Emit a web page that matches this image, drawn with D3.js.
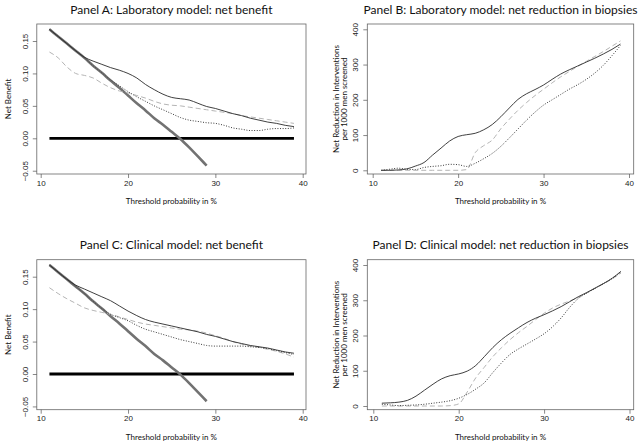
<!DOCTYPE html>
<html><head><meta charset="utf-8">
<script src="https://cdn.jsdelivr.net/npm/d3@7"></script>
<style>
html,body{margin:0;padding:0;background:#fff;}
svg{display:block;}
</style></head>
<body>
<svg id="chart" width="640" height="446"></svg>
<script>
// ---------- data ----------
const thresholds = [11,12,13,14,15,16,17,18,19,20,21,22,23,24,25,26,27,28,29,30,31,32,33,34,35,36,37,38,39];
const xTicks = [10,20,30,40];
const nbTicks = [-0.05,0.00,0.05,0.10,0.15];
const nrTicks = [0,100,200,300,400];

const titles = ["Panel A: Laboratory model: net benefit",
                "Panel B: Laboratory model: net reduction in biopsies",
                "Panel C: Clinical model: net benefit",
                "Panel D: Clinical model: net reduction in biopsies"];
const xLabel = "Threshold probability in %";
const nbLabel = ["Net Benefit"];
const nrLabel = ["Net Reduction in Interventions","per 1000 men screened"];

// treat all / treat none reference lines (net benefit panels)
const treatAllX = [11,12,13,14,15,16,17,18,19,20,21,22,23,24,25,26,27,28,29];
const treatAllY = [0.168,0.157,0.146,0.135,0.124,0.112,0.101,0.089,0.078,0.066,0.054,0.043,0.031,0.021,0.010,-0.001,-0.014,-0.028,-0.042];
const treatNoneX = [11,39];
const treatNoneY = [0,0];

// Panel A: laboratory model, net benefit
const labNBsolid  = [0.168,0.157,0.146,0.135,0.125,0.119,0.114,0.109,0.105,0.100,0.093,0.083,0.075,0.068,0.063,0.061,0.059,0.054,0.049,0.046,0.042,0.038,0.035,0.031,0.028,0.025,0.023,0.020,0.018];
const labNBdashed = [0.133,0.124,0.110,0.100,0.097,0.093,0.085,0.078,0.073,0.070,0.066,0.062,0.057,0.053,0.051,0.050,0.048,0.046,0.044,0.042,0.040,0.038,0.035,0.033,0.031,0.029,0.027,0.025,0.023];
const labNBdotted = [0.168,0.157,0.146,0.135,0.124,0.112,0.101,0.090,0.081,0.072,0.064,0.057,0.050,0.044,0.038,0.032,0.028,0.026,0.024,0.023,0.020,0.016,0.014,0.012,0.012,0.014,0.015,0.015,0.016];

// Panel B: laboratory model, net reduction
const labNRsolid  = [0,0,1,4,12,22,43,63,83,96,101,105,115,130,152,177,201,217,229,242,258,273,285,296,307,318,330,343,358];
const labNRdashed = [0,0,0,0,0,0,0,0,0,0,2,50,70,86,118,145,170,192,212,230,248,265,280,295,309,323,337,352,367];
const labNRdotted = [0,3,6,3,2,8,11,13,17,16,11,20,33,48,68,92,117,142,165,185,200,215,230,243,258,276,298,325,354];

// Panel C: clinical model, net benefit
const cliNBsolid  = [0.168,0.157,0.146,0.137,0.131,0.125,0.119,0.113,0.105,0.097,0.090,0.084,0.080,0.077,0.074,0.071,0.068,0.065,0.061,0.058,0.054,0.050,0.047,0.044,0.042,0.040,0.037,0.034,0.032];
const cliNBdashed = [0.133,0.124,0.116,0.109,0.102,0.098,0.095,0.092,0.088,0.084,0.080,0.077,0.075,0.073,0.071,0.069,0.068,0.066,0.063,0.059,0.055,0.050,0.046,0.043,0.041,0.038,0.035,0.031,0.026];
const cliNBdotted = [0.168,0.157,0.146,0.135,0.124,0.112,0.101,0.092,0.087,0.082,0.075,0.069,0.065,0.061,0.057,0.053,0.050,0.047,0.044,0.043,0.043,0.043,0.043,0.042,0.041,0.039,0.036,0.033,0.030];

// Panel D: clinical model, net reduction
const cliNRsolid  = [8,9,11,16,28,45,62,77,86,91,99,115,140,166,188,206,222,237,249,259,270,282,296,310,322,335,348,363,382];
const cliNRdashed = [0,0,0,0,0,0,0,0,1,6,40,80,110,140,165,188,208,226,245,263,278,289,298,308,321,334,347,361,377];
const cliNRdotted = [5,3,1,2,3,5,8,11,15,22,33,48,66,95,122,146,162,176,190,205,225,250,280,305,320,334,348,362,380];

// ---------- styles ----------
const styles = {
  solid:  {stroke:"#2a2a2a", width:0.9, dash:null},
  dashed: {stroke:"#b4b4b4", width:1.0, dash:"5,3"},
  dotted: {stroke:"#3a3a3a", width:1.0, dash:"1,1.6"},
  all:    {stroke:"#727272", width:2.6, dash:null},
  none:   {stroke:"#000000", width:2.8, dash:null}
};

const svg = d3.select("#chart");
const textFont = "Lato, 'Open Sans', sans-serif";
const tickFont = "'Liberation Sans', Arial, sans-serif";

function fmtNB(v){ const s = d3.format(".2f")(Math.abs(v)); return (v < 0 ? "\u22120" + s.slice(1) : s); }

function panel(cfg){
  const g = svg.append("g").attr("transform", `translate(${cfg.ox},${cfg.oy})`);
  const x = d3.scaleLinear().domain([10,40]).range(cfg.xr);
  const y = d3.scaleLinear().domain(cfg.yd).range(cfg.yr);
  const [bl,br,bt,bb] = cfg.box;

  // title
  g.append("text").attr("x",(bl+br)/2).attr("y",cfg.titleY)
    .attr("text-anchor","middle").attr("font-family",textFont).attr("font-size",cfg.titleSize)
    .attr("fill","#111").text(cfg.title);

  // clip
  const cid = "clip"+cfg.id;
  g.append("clipPath").attr("id",cid).append("rect").attr("x",bl).attr("y",bt).attr("width",br-bl).attr("height",bb-bt);
  const plot = g.append("g").attr("clip-path",`url(#${cid})`);

  const line = d3.line().x(d=>x(d[0])).y(d=>y(d[1])).curve(d3.curveMonotoneX);
  const draw = (xs, ys, st) => {
    plot.append("path").datum(xs.map((v,i)=>[v,ys[i]]))
      .attr("d",line).attr("fill","none")
      .attr("stroke",st.stroke).attr("stroke-width",st.width)
      .attr("stroke-dasharray",st.dash).attr("stroke-linejoin","round");
  };
  if(cfg.refs){
    draw(treatNoneX, treatNoneY, styles.none);
    draw(treatAllX, treatAllY, styles.all);
  }
  draw(thresholds, cfg.dashed, styles.dashed);
  draw(thresholds, cfg.dotted, styles.dotted);
  draw(thresholds, cfg.solid, styles.solid);

  // box
  g.append("rect").attr("x",bl).attr("y",bt).attr("width",br-bl).attr("height",bb-bt)
    .attr("fill","none").attr("stroke","#666").attr("stroke-width",0.8);

  // x axis
  const xa = g.append("g").attr("transform",`translate(0,${bb})`)
    .call(d3.axisBottom(x).tickValues(xTicks).tickSize(4).tickSizeOuter(0).tickPadding(2));
  xa.select(".domain").remove();
  xa.selectAll("line").attr("stroke","#555").attr("stroke-width",0.7);
  xa.selectAll("text").attr("font-family",tickFont).attr("font-size",8).attr("fill","#222");

  // y axis
  const ya = g.append("g").attr("transform",`translate(${bl},0)`)
    .call(d3.axisLeft(y).tickValues(cfg.yTicks).tickFormat(cfg.fmt).tickSize(4).tickSizeOuter(0));
  ya.select(".domain").remove();
  ya.selectAll("line").attr("stroke","#555").attr("stroke-width",0.7);
  ya.selectAll("text").attr("font-family",tickFont).attr("font-size",8).attr("fill","#222")
    .attr("x",null).attr("dy",null).attr("text-anchor","middle")
    .attr("transform","translate(-9,0) rotate(-90)");

  // axis labels
  g.append("text").attr("x",(bl+br)/2).attr("y",cfg.xLabelY).attr("text-anchor","middle")
    .attr("font-family",textFont).attr("font-size",8).attr("fill","#111").text(xLabel);
  cfg.yLabel.forEach((t,i)=>{
    g.append("text").attr("transform",`translate(${cfg.yLabelX[i]},${(bt+bb)/2}) rotate(-90)`)
      .attr("text-anchor","middle").attr("font-family",textFont).attr("font-size",8).attr("fill","#111").text(t);
  });
}

const rowShift = 235.7;
const leftBox = [36.8, 306, 24, 174];
const rightBox = [367.3, 633.7, 24, 174];

const defs = [
  {id:"A", ox:0, oy:0, title:titles[0], refs:true, solid:labNBsolid, dashed:labNBdashed, dotted:labNBdotted,
   xr:[40.7,302.7], yd:[0,0.15], yr:[138.3,41], yTicks:nbTicks, fmt:fmtNB, box:leftBox, yLabel:nbLabel, yLabelX:[11]},
  {id:"B", ox:0, oy:0, title:titles[1], refs:false, solid:labNRsolid, dashed:labNRdashed, dotted:labNRdotted,
   xr:[372.7,629], yd:[0,400], yr:[170.3,29.3], yTicks:nrTicks, fmt:d3.format("d"), box:rightBox, yLabel:nrLabel, yLabelX:[338.5,346.5]},
  {id:"C", ox:0, oy:rowShift, title:titles[2], refs:true, solid:cliNBsolid, dashed:cliNBdashed, dotted:cliNBdotted,
   xr:[40.7,302.7], yd:[0,0.15], yr:[138.3,41], yTicks:nbTicks, fmt:fmtNB, box:leftBox, yLabel:nbLabel, yLabelX:[11]},
  {id:"D", ox:0, oy:rowShift, title:titles[3], refs:false, solid:cliNRsolid, dashed:cliNRdashed, dotted:cliNRdotted,
   xr:[373.3,629.5], yd:[0,400], yr:[170.3,29.3], yTicks:nrTicks, fmt:d3.format("d"), box:rightBox, yLabel:nrLabel, yLabelX:[338.5,346.5]}
];
defs.forEach(d=>{ d.titleY = 13.5; d.xLabelY = 204; d.titleSize = 12; panel(d); });
</script>
</body></html>
